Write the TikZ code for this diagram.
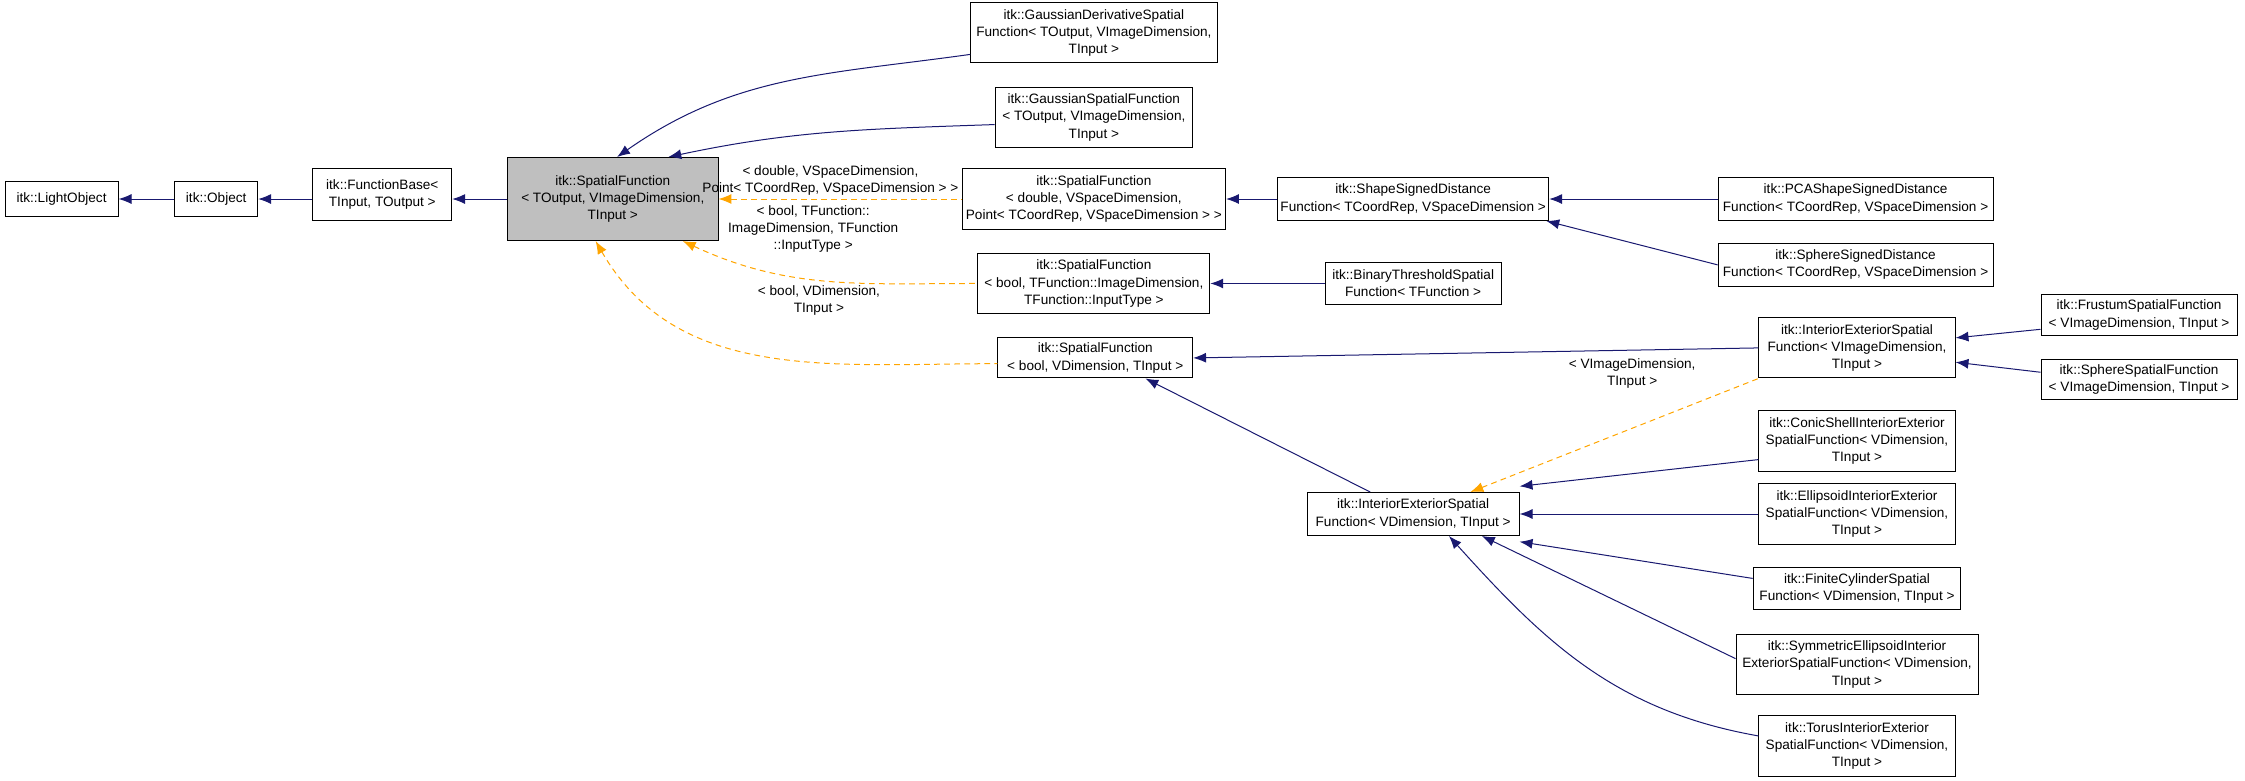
\documentclass[tikz,border=0pt]{standalone}
\usepackage{fontspec}
\setmainfont{Liberation Sans}
\usetikzlibrary{arrows.meta, positioning}
\definecolor{edgeblue}{RGB}{25,25,112}
\definecolor{tmplorange}{RGB}{255,165,0}

\begin{document}
\begin{tikzpicture}[x=1pt, y=-1pt,
            cls/.style={rectangle, draw=black, line width=0.7pt, inner sep=2pt, align=center, font=\fontsize{9.5}{12}\selectfont, fill=white},
            arrow/.style={{Latex[length=9pt,width=7pt]}-, edgeblue, line width=0.7pt},
            tmpl/.style={{Latex[length=9pt,width=7pt]}-, tmplorange, line width=0.7pt, dash pattern=on 4pt off 3pt},
            lbl/.style={align=center, text=black, font=\fontsize{9.5}{12}\selectfont}
        ]
\useasboundingbox (0,0) rectangle (1568,545);

% base classes
            \node[cls, minimum width=79, minimum height=24] (light) at (43,139) {itk::LightObject};
            \node[cls, minimum width=58, minimum height=24] (obj) at (151,139) {itk::Object};
            \node[cls, minimum width=97, minimum height=36] (fbase) at (267,136) {itk::FunctionBase<\\TInput, TOutput >};
            \node[cls, fill=gray!50, minimum width=147, minimum height=58] (sf) at (428,139) {itk::SpatialFunction\\< TOutput, VImageDimension,\\TInput >};

% direct subclasses
            \node[cls, minimum width=172, minimum height=42] (gderiv) at (764,23) {itk::GaussianDerivativeSpatial\\Function< TOutput, VImageDimension,\\TInput >};
            \node[cls, minimum width=138, minimum height=42] (gauss) at (764,82) {itk::GaussianSpatialFunction\\< TOutput, VImageDimension,\\TInput >};
            \node[cls, minimum width=184, minimum height=42] (sfdbl) at (764,139) {itk::SpatialFunction\\< double, VSpaceDimension,\\Point< TCoordRep, VSpaceDimension > >};
            \node[cls, minimum width=162, minimum height=42] (sftfn) at (764,198) {itk::SpatialFunction\\< bool, TFunction::ImageDimension,\\TFunction::InputType >};
            \node[cls, minimum width=136, minimum height=28] (sfbool) at (765,250) {itk::SpatialFunction\\< bool, VDimension, TInput >};

% second level
            \node[cls, minimum width=189, minimum height=30] (shape) at (987,139) {itk::ShapeSignedDistance\\Function< TCoordRep, VSpaceDimension >};
            \node[cls, minimum width=123, minimum height=29] (binthr) at (987,198) {itk::BinaryThresholdSpatial\\Function< TFunction >};
            \node[cls, minimum width=148, minimum height=30] (ieVdim) at (987,359) {itk::InteriorExteriorSpatial\\Function< VDimension, TInput >};
            \node[cls, minimum width=192, minimum height=30] (pca) at (1296,139) {itk::PCAShapeSignedDistance\\Function< TCoordRep, VSpaceDimension >};
            \node[cls, minimum width=192, minimum height=30] (sphsd) at (1296,185) {itk::SphereSignedDistance\\Function< TCoordRep, VSpaceDimension >};
            \node[cls, minimum width=137, minimum height=42] (ieVimg) at (1297,243) {itk::InteriorExteriorSpatial\\Function< VImageDimension,\\TInput >};
            \node[cls, minimum width=137, minimum height=28] (frustum) at (1494,220) {itk::FrustumSpatialFunction\\< VImageDimension, TInput >};
            \node[cls, minimum width=137, minimum height=28] (sphere) at (1494,265) {itk::SphereSpatialFunction\\< VImageDimension, TInput >};
            \node[cls, minimum width=137, minimum height=42] (conic) at (1297,308) {itk::ConicShellInteriorExterior\\SpatialFunction< VDimension,\\TInput >};
            \node[cls, minimum width=137, minimum height=42] (ellips) at (1297,359) {itk::EllipsoidInteriorExterior\\SpatialFunction< VDimension,\\TInput >};
            \node[cls, minimum width=145, minimum height=29] (cyl) at (1297,411) {itk::FiniteCylinderSpatial\\Function< VDimension, TInput >};
            \node[cls, minimum width=169, minimum height=42] (symell) at (1297,464) {itk::SymmetricEllipsoidInterior\\ExteriorSpatialFunction< VDimension,\\TInput >};
            \node[cls, minimum width=137, minimum height=42] (torus) at (1297,521) {itk::TorusInteriorExterior\\SpatialFunction< VDimension,\\TInput >};

% inheritance
            \draw[arrow] (light) -- (obj);
            \draw[arrow] (obj) -- (fbase.west |- obj);
            \draw[arrow] (fbase.east |- sf) -- (sf);
            \draw[arrow] ([xshift=3pt]sf.north) to[out=35, in=188] (gderiv.west |- 0,38);
            \draw[arrow] ([xshift=-35pt]sf.north east) to[out=12, in=182] (gauss.west |- 0,87);
            \draw[arrow] (sfdbl) -- (shape);
            \draw[arrow] (shape.east |- pca) -- (pca);
            \draw[arrow] ([xshift=-2pt]shape.south east) -- (sphsd.west);
            \draw[arrow] (sftfn) -- (binthr);
            \draw[arrow] (sfbool.east) -- (ieVimg.west |- 0,243);
            \draw[arrow] (ieVimg.east |- 0,236) -- (frustum.west |- 0,230);
            \draw[arrow] (ieVimg.east |- 0,253) -- (sphere.west |- 0,260);
            \draw[arrow] ([xshift=35pt]sfbool.south) -- ([xshift=-30pt]ieVdim.north);
            \draw[arrow] ([yshift=4pt]ieVdim.north east) -- (conic.west |- 0,321);
            \draw[arrow] (ieVdim.east) -- (ellips.west);
            \draw[arrow] ([yshift=-4pt]ieVdim.south east) -- (cyl.west |- 0,404);
            \draw[arrow] ([xshift=48pt]ieVdim.south) -- (symell.west |- 0,460);
            \draw[arrow] ([xshift=25pt]ieVdim.south) to[out=-48, in=170] (torus.west |- 0,514);

% template instantiations
            \draw[tmpl] (sf.east) -- (sfdbl.west);
            \node[lbl] (ldbl) at (580,126) {< double, VSpaceDimension,\\Point< TCoordRep, VSpaceDimension > >};
            \draw[tmpl] ([xshift=-25pt]sf.south east) to[out=-25, in=180] (sftfn.west);
            \node[lbl] (ltfn) at (568,160) {< bool, TFunction::\\ImageDimension, TFunction\\::InputType >};
            \draw[tmpl] ([xshift=-12pt]sf.south) to[out=-60, in=180] (sfbool.west |- 0,254);
            \node[lbl] (lbool) at (572,210) {< bool, VDimension,\\TInput >};
            \draw[tmpl] ([xshift=40pt]ieVdim.north) -- (ieVimg.south west);
            \node[lbl] (lvimg) at (1140,261) {< VImageDimension,\\TInput >};

        \end{tikzpicture}
\end{document}
